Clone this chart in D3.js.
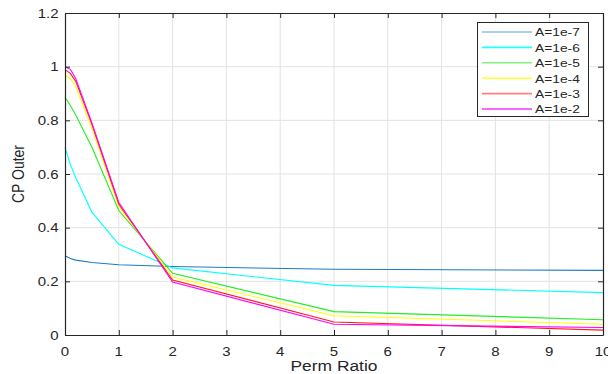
<!DOCTYPE html>
<html><head><meta charset="utf-8">
<script src="https://cdn.jsdelivr.net/npm/d3@7"></script>
<style>body{margin:0;background:#fff}svg{display:block}</style>
</head><body>
<svg id="c" width="608" height="374"></svg>
<script>
const xValues = [0, 0.1, 0.2, 0.5, 1, 2, 5, 10];
const seriesNames = ["A=1e-7","A=1e-6","A=1e-5","A=1e-4","A=1e-3","A=1e-2"];
const s1e7 = [0.295, 0.285, 0.279, 0.270, 0.262, 0.255, 0.245, 0.241];
const s1e6 = [0.698, 0.635, 0.586, 0.458, 0.338, 0.250, 0.185, 0.158];
const s1e5 = [0.886, 0.855, 0.820, 0.700, 0.464, 0.230, 0.087, 0.057];
const s1e4 = [0.969, 0.955, 0.925, 0.770, 0.478, 0.216, 0.072, 0.040];
const s1e3 = [0.989, 0.975, 0.945, 0.785, 0.487, 0.205, 0.0485, 0.018];
const s1e2 = [1.000, 0.990, 0.955, 0.790, 0.494, 0.197, 0.040, 0.028];
const seriesValues = [s1e7, s1e6, s1e5, s1e4, s1e3, s1e2];
const xTicks = [0,1,2,3,4,5,6,7,8,9,10];
const yTicks = [0,0.2,0.4,0.6,0.8,1,1.2];
const xTickLabels = xTicks.map(d=>String(d));
const yTickLabels = ["0","0.2","0.4","0.6","0.8","1","1.2"];

const colors = ["#1f7bc2","#00ffff","#22ee22","#ffff00","#ff1a1a","#ff00ff"];
const legendColors = ["#8ec0e2","#22ffff","#80f080","#ffff33","#ff8080","#ff33ff"];

const svg = d3.select("#c");
const L=65, R=603, T=13, B=335;
const SX = 1.2; // horizontal stretch of text as in reference
const x = d3.scaleLinear().domain([0,10]).range([L,R]);
const y = d3.scaleLinear().domain([0,1.2]).range([B,T]);
const font = "Liberation Sans, Arial, sans-serif";
const txtCol = "#262626";

function stxt(g, px, py, s, size, anchor, dy){
  return g.append("text")
    .attr("transform",`translate(${px},${py}) scale(${SX},1)`)
    .attr("text-anchor",anchor).attr("dy",dy||0)
    .attr("font-family",font).attr("font-size",size).attr("fill",txtCol).text(s);
}

// grid
svg.append("g").selectAll("line").data(xTicks.slice(1,-1)).join("line")
  .attr("x1",d=>x(d)).attr("x2",d=>x(d)).attr("y1",T).attr("y2",B)
  .attr("stroke","#e3e3e3").attr("stroke-width",1);
svg.append("g").selectAll("line").data(yTicks.slice(1,-1)).join("line")
  .attr("y1",d=>y(d)).attr("y2",d=>y(d)).attr("x1",L).attr("x2",R)
  .attr("stroke","#e3e3e3").attr("stroke-width",1);

// lines
const line = d3.line().x((d,i)=>x(xValues[i])).y(d=>y(d));
svg.append("g").selectAll("path").data(seriesValues).join("path")
  .attr("d",d=>line(d)).attr("fill","none")
  .attr("stroke",(d,i)=>colors[i]).attr("stroke-width",1.1);

// axes (ticks inward, labels drawn separately)
const axCol = "#262626";
const xb = svg.append("g").attr("transform",`translate(0,${B})`)
  .call(d3.axisBottom(x).tickValues(xTicks).tickFormat("").tickSizeInner(-5).tickSizeOuter(0));
const xt = svg.append("g").attr("transform",`translate(0,${T})`)
  .call(d3.axisTop(x).tickValues(xTicks).tickFormat("").tickSizeInner(-5).tickSizeOuter(0));
const yl = svg.append("g").attr("transform",`translate(${L},0)`)
  .call(d3.axisLeft(y).tickValues(yTicks).tickFormat("").tickSizeInner(-5).tickSizeOuter(0));
const yr = svg.append("g").attr("transform",`translate(${R},0)`)
  .call(d3.axisRight(y).tickValues(yTicks).tickFormat("").tickSizeInner(-5).tickSizeOuter(0));
[xb,xt,yl,yr].forEach(g=>{
  g.select(".domain").attr("stroke",axCol).attr("stroke-width",1.2);
  g.selectAll(".tick line").attr("stroke",axCol);
});

// tick labels
const tl = svg.append("g");
xTicks.forEach((d,i)=>stxt(tl, x(d), 356, xTickLabels[i], 12.5, "middle"));
yTicks.forEach((d,i)=>stxt(tl, 58.5, y(d), yTickLabels[i], 12.5, "end", "0.36em"));

// axis titles
stxt(svg, (L+R)/2, 371, "Perm Ratio", 14.5, "middle");
svg.append("text").attr("transform",`translate(24,${(T+B)/2}) rotate(-90) scale(1,${SX})`).attr("text-anchor","middle")
  .attr("font-family",font).attr("font-size",14).attr("fill",txtCol).text("CP Outer");

// legend
const lg = svg.append("g");
lg.append("rect").attr("x",477.5).attr("y",22.5).attr("width",111).attr("height",94)
  .attr("fill","#fff").attr("stroke","#262626").attr("stroke-width",1);
const items = lg.selectAll("g.it").data(seriesNames).join("g").attr("class","it")
  .attr("transform",(d,i)=>`translate(0,${32+i*15.4})`);
items.append("line").attr("x1",482).attr("x2",532).attr("y1",0).attr("y2",0)
  .attr("stroke",(d,i)=>legendColors[i]).attr("stroke-width",1.6);
items.each(function(d){ stxt(d3.select(this), 535, 4.3, d, 11.5, "start"); });
</script>
</body></html>
